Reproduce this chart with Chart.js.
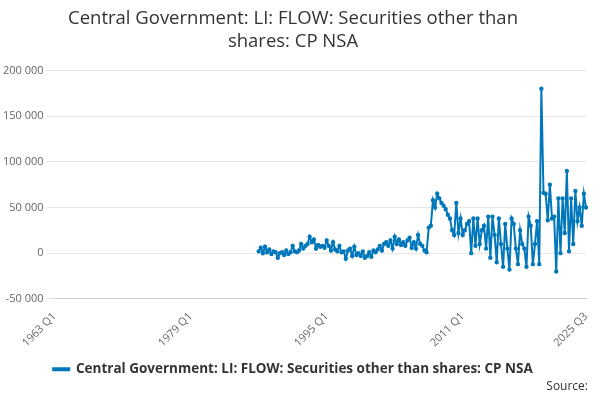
<!DOCTYPE html>
<html>
<head>
<meta charset="utf-8">
<script src="https://cdn.jsdelivr.net/npm/chart.js@4"></script>
<style>
body { margin: 0; background: #fff; font-family: "Open Sans", sans-serif; }
#wrap { width: 600px; height: 400px; position: relative; }
#source { position: absolute; right: 12px; bottom: 6px; font-size: 12px; color: #333; }
</style>
</head>
<body>
<div id="wrap"><canvas id="chart" width="600" height="400"></canvas><div id="source">Source:</div></div>
<script>
const firstYear = 1963;
const lastYear = 2025, lastQuarter = 3;
const seriesStartYear = 1987;
// thousands, quarterly from 1987 Q1 to 2025 Q3
const values = [
    2, 6, 0, 7,  1, 4, -1, 2,  1, -5, 0, 1,  -2, 3, -1, 1,
    8, 2, 1, 3,  10, 5, 8, 10,  18, 12, 15, 5,  9, 7, 8, 6,
    14, 8, 3, 12,  4, 2, 8, 1,  2, -6, 3, 5,  -3, 7, -2, 0,
    -3, 2, -5, -3,  1, -4, 3, 1,  4, 8, 3, 10,  12, 8, 14, 5,
    18, 10, 15, 9,  12, 8, 14, 17,  6, 12, 5, 20,  10, 8, 3, 1,
    28, 30, 58, 50,  65, 60, 55, 52,  48, 42, 38, 25,  20, 55, 22, 38,
    20, 25, 32, 35,  0, 38, 8, 38,  10, 25, 30, 5,  40, -5, 40, 20,
    -10, 38, 10, -15,  32, 5, -18, 38,  32, 5, -12, 25,  10, 5, -15, 40,
    30, -12, 10, 35,  -12, 180, 66, 65,  36, 75, 38, 40,  -20, 60, 0, 60,
    22, 90, 2, 60,  10, 68, 35, 50,  30, 65, 50
];

const labels = [];
for (let y = firstYear; y <= lastYear; y++) {
    for (let q = 1; q <= 4; q++) {
        if (y === lastYear && q > lastQuarter) break;
        labels.push(y + ' Q' + q);
    }
}
const offset = (seriesStartYear - firstYear) * 4;
const data = labels.map((l, i) => i < offset ? null : values[i - offset] * 1000);

new Chart(document.getElementById('chart'), {
    type: 'line',
    data: {
        labels: labels,
        datasets: [{
            label: 'Central Government: LI: FLOW: Securities other than shares: CP NSA',
            data: data,
            borderColor: '#0077bb',
            backgroundColor: '#0077bb',
            borderWidth: 2,
            pointRadius: 1.2,
            tension: 0
        }]
    },
    options: {
        animation: false,
        responsive: false,
        layout: { padding: { right: 14, bottom: 14 } },
        plugins: {
            title: {
                display: true,
                text: ['Central Government: LI: FLOW: Securities other than', 'shares: CP NSA'],
                color: '#333',
                font: { family: 'Open Sans', size: 18.5, weight: 'normal' },
                padding: { top: 8, bottom: 18 }
            },
            legend: {
                position: 'bottom',
                labels: {
                    color: '#333',
                    font: { family: 'Open Sans', size: 13.5, weight: 'bold' },
                    boxWidth: 16, boxHeight: 2
                }
            }
        },
        scales: {
            x: {
                grid: { display: false },
                border: { color: '#ccc' },
                ticks: {
                    autoSkip: false, maxRotation: 45, minRotation: 45,
                    color: '#666', font: { family: 'Open Sans', size: 11 },
                    callback: function (v, i) {
                        return (i % 64 === 0 || i === labels.length - 1) ? labels[i] : null;
                    }
                }
            },
            y: {
                min: -50000, max: 200000,
                border: { display: false },
                grid: { color: '#e6e6e6' },
                ticks: {
                    stepSize: 50000, color: '#666', font: { family: 'Open Sans', size: 11 },
                    callback: v => v.toLocaleString('en-US').replace(/,/g, ' ')
                }
            }
        }
    }
});
</script>
</body>
</html>
